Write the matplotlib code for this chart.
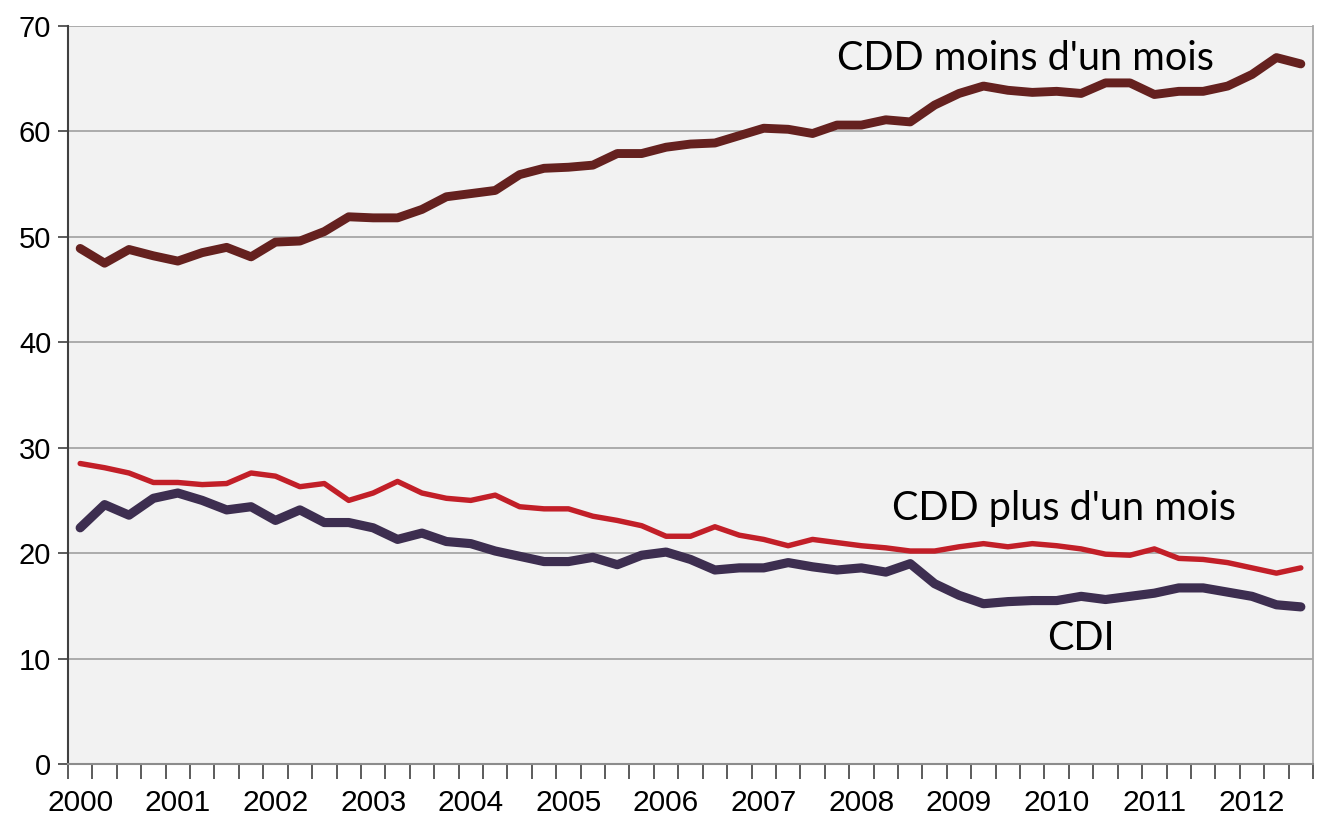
import matplotlib
matplotlib.use("Agg")
import matplotlib.pyplot as plt
import numpy as np

years = [str(y) for y in range(2000, 2013)]
n_quarters = 51  # 2000 T1 .. 2012 T3

cdd_moins = [48.9, 47.5, 48.8, 48.2, 47.7, 48.5, 49.0, 48.1, 49.5, 49.6,
             50.5, 51.9, 51.8, 51.8, 52.6, 53.8, 54.1, 54.4, 55.9, 56.5,
             56.6, 56.8, 57.9, 57.9, 58.5, 58.8, 58.9, 59.6, 60.3, 60.2,
             59.8, 60.6, 60.6, 61.1, 60.9, 62.5, 63.6, 64.3, 63.9, 63.7,
             63.8, 63.6, 64.6, 64.6, 63.5, 63.8, 63.8, 64.3, 65.4, 67.0,
             66.4]
cdd_plus = [28.5, 28.1, 27.6, 26.7, 26.7, 26.5, 26.6, 27.6, 27.3, 26.3,
            26.6, 25.0, 25.7, 26.8, 25.7, 25.2, 25.0, 25.5, 24.4, 24.2,
            24.2, 23.5, 23.1, 22.6, 21.6, 21.6, 22.5, 21.7, 21.3, 20.7,
            21.3, 21.0, 20.7, 20.5, 20.2, 20.2, 20.6, 20.9, 20.6, 20.9,
            20.7, 20.4, 19.9, 19.8, 20.4, 19.5, 19.4, 19.1, 18.6, 18.1,
            18.6]
cdi = [22.4, 24.6, 23.6, 25.2, 25.7, 25.0, 24.1, 24.4, 23.1, 24.1,
       22.9, 22.9, 22.4, 21.3, 21.9, 21.1, 20.9, 20.2, 19.7, 19.2,
       19.2, 19.6, 18.9, 19.8, 20.1, 19.4, 18.4, 18.6, 18.6, 19.1,
       18.7, 18.4, 18.6, 18.2, 19.0, 17.1, 16.0, 15.2, 15.4, 15.5,
       15.5, 15.9, 15.6, 15.9, 16.2, 16.7, 16.7, 16.3, 15.9, 15.1,
       14.9]

x = np.arange(n_quarters)

fig = plt.figure(figsize=(13.17, 8.27), dpi=100)
ax = fig.add_axes([0.0516, 0.0762, 0.9454, 0.8924])
ax.set_facecolor("#f2f2f2")

for v in range(10, 80, 10):
    ax.axhline(v, color="#a6a6a6", lw=1.3, zorder=1)

ax.plot(x, cdd_moins, color="#65211f", lw=6.4, solid_capstyle="round",
        solid_joinstyle="round", zorder=3)
ax.plot(x, cdd_plus, color="#c21f28", lw=3.9, solid_capstyle="round",
        solid_joinstyle="round", zorder=3)
ax.plot(x, cdi, color="#3d2e50", lw=6.6, solid_capstyle="round",
        solid_joinstyle="round", zorder=3)

ax.set_xlim(-0.5, n_quarters - 0.5)
ax.set_ylim(0, 70)

ax.set_yticks(range(0, 80, 10))
ax.tick_params(axis="y", direction="out", length=7, width=1.2, color="#404040",
               labelsize=21, pad=5)
ax.set_xticks(np.arange(n_quarters + 1) - 0.5, minor=True)
ax.set_xticks(np.arange(0, n_quarters, 4))
ax.set_xticklabels(years)
ax.tick_params(axis="x", which="major", length=0, labelsize=21.5, pad=18)
ax.tick_params(axis="x", which="minor", direction="out", length=11, width=1.2,
               color="#404040")
for lab in ax.get_xticklabels() + ax.get_yticklabels():
    lab.set_fontfamily("Liberation Sans")

ax.spines["left"].set_color("#404040")
ax.spines["left"].set_linewidth(1.5)
ax.spines["bottom"].set_color("#8c8c8c")
ax.spines["bottom"].set_linewidth(1.5)
ax.spines["right"].set_color("#a6a6a6")
ax.spines["right"].set_linewidth(1.3)
ax.spines["top"].set_visible(False)

tfont = dict(family="Lato", fontsize=28.5, color="black")
ax.text(38.7, 65.8, "CDD moins d'un mois", ha="center", va="baseline", **tfont)
ax.text(40.3, 23.1, "CDD plus d'un mois", ha="center", va="baseline", **tfont)
ax.text(41.0, 10.8, "CDI", ha="center", va="baseline", **tfont)

fig.savefig("out.png", dpi=100, facecolor="white")
